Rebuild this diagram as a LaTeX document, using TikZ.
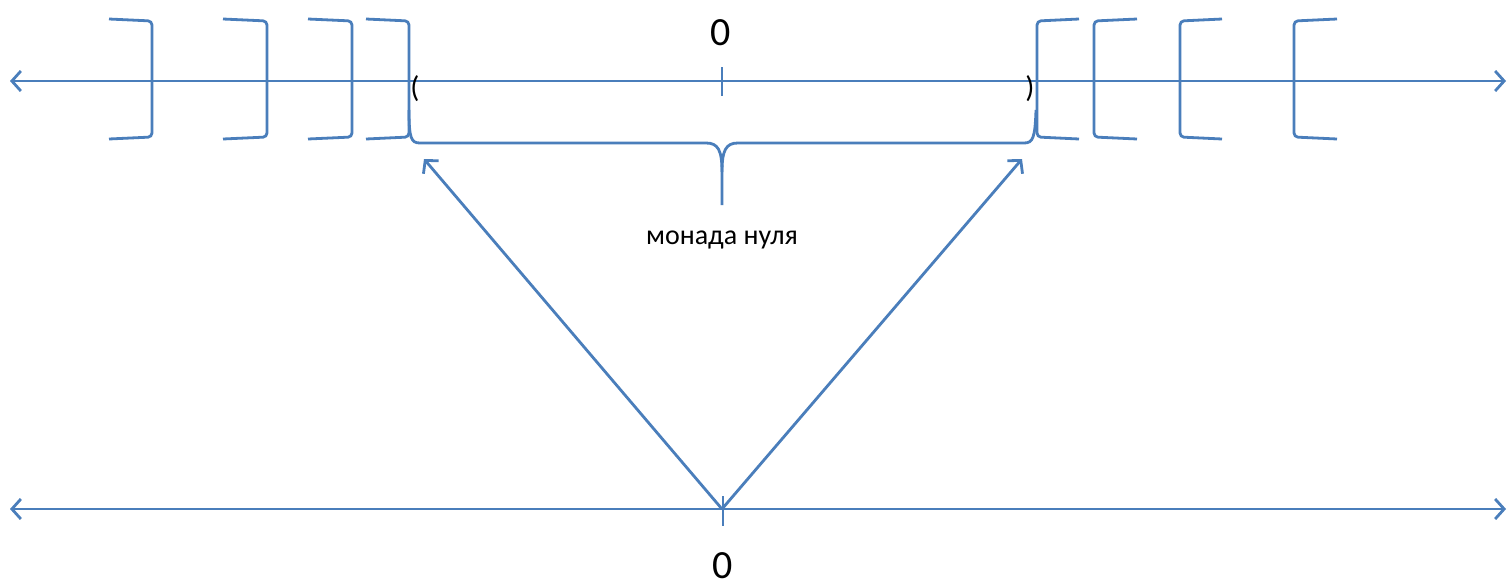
\documentclass[tikz,border=0pt]{standalone}
\usepackage{fontspec}
\setmainfont{Carlito}
\usetikzlibrary{arrows.meta}
\definecolor{lineblue}{RGB}{74,126,187}
\begin{document}
\begin{tikzpicture}[x=1pt,y=-1pt,
  ln/.style={draw=lineblue,line width=2.8pt},
  arr/.style={ln,-{Straight Barb[length=9pt,width=20pt,line width=2.8pt]}},
  darr/.style={ln,{Straight Barb[length=9pt,width=20pt,line width=2.8pt]}-{Straight Barb[length=9pt,width=20pt,line width=2.8pt]}},
  rb/.style={ln,rounded corners=4pt},
  lbl/.style={inner sep=0pt,text=black}]
\useasboundingbox (0,0) rectangle (1510,587);
% coordinates
\coordinate (tl) at (10,81);
\coordinate (tr) at (1506,81);
\coordinate (bl) at (10,509);
\coordinate (br) at (1506,509);
\coordinate (o) at (722,509);
\coordinate (al) at (424,159);
\coordinate (ar) at (1022,159);
% number lines
\draw[darr] (tl) -- (tr);
\draw[darr] (bl) -- (br);
% ticks
\draw[ln] (722,67) -- (722,96);
\draw[ln] (723,496) -- (723,526);
% left brackets ]
\foreach \x/\w in {152/43,267/44,352/44,409/43}
  \draw[rb] (\x-\w,19) -- (\x,21) -- (\x,137) -- (\x-\w,139);
% right brackets [
\foreach \x/\w in {1037/42,1094/43,1180/42,1294/43}
  \draw[rb] (\x+\w,19) -- (\x,21) -- (\x,137) -- (\x+\w,139);
% brace
\draw[ln] (409,110) .. controls (409,138) and (411,143) .. (420,143)
  -- (706,143) .. controls (718,143) and (722,150) .. (722,172) -- (722,205);
\draw[ln] (722,172) .. controls (722,150) and (726,143) .. (738,143)
  -- (1024,143) .. controls (1033,143) and (1035,138) .. (1036,110);
% parentheses
\node[lbl,font=\fontsize{30}{30}\selectfont] (lp) at (415,89) {(};
\node[lbl,font=\fontsize{30}{30}\selectfont] (rp) at (1030,89) {)};
% labels
\node[lbl,font=\fontsize{40}{40}\selectfont] (z1) at (721,33) {0};
\node[lbl,font=\fontsize{40}{40}\selectfont] (z2) at (723,566) {0};
\node[lbl,font=\fontsize{28}{28}\selectfont] (mon) at (722,240) {монада нуля};
% arrows
\draw[arr] (o) -- (al);
\draw[arr] (o) -- (ar);
\end{tikzpicture}
\end{document}
